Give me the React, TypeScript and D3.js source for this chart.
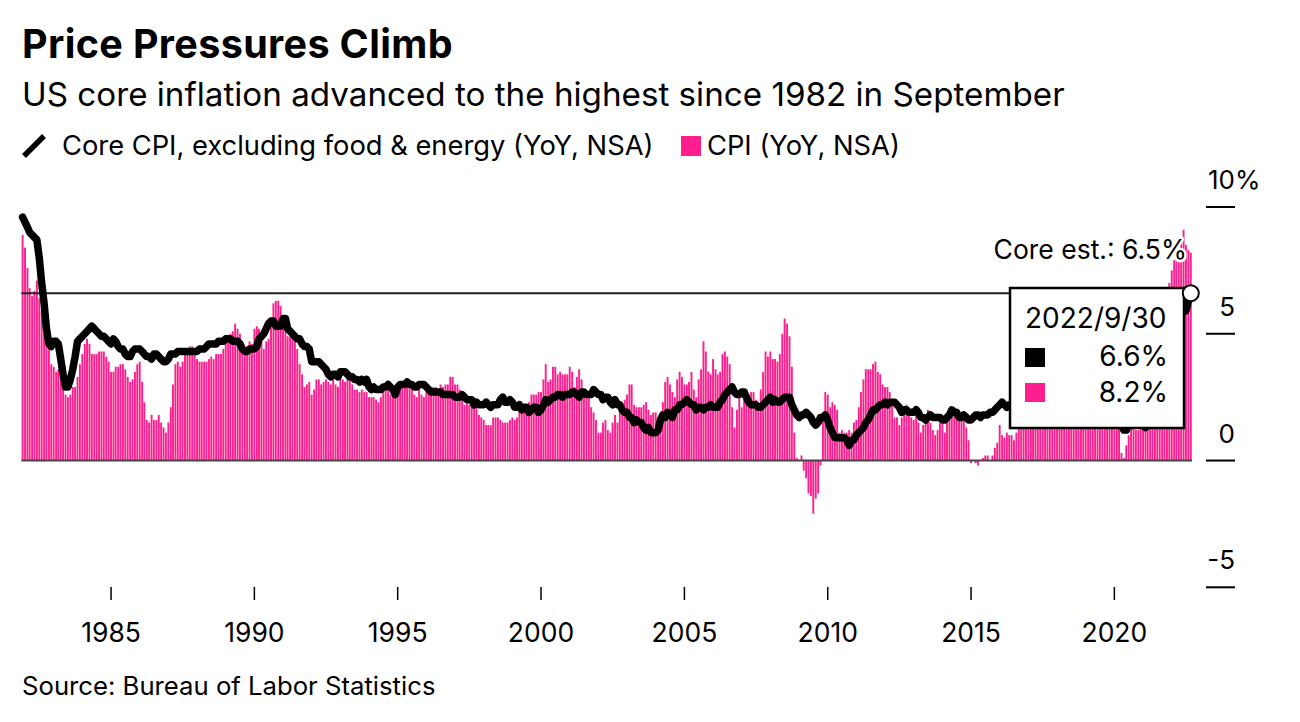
import React from "react";
import * as d3 from "d3";

// Monthly series start: December 1981
const START_YEAR = 1981;
const START_MONTH = 11;

// CPI, YoY % (NSA), Dec 1981 .. Sep 2022
const cpiYoY: number[] = [
  8.9,
  8.4, 7.6, 6.8, 6.5, 6.7, 7.1, 6.4, 5.9, 5.0, 5.1, 4.6, 3.8,
  3.7, 3.5, 3.6, 3.9, 3.5, 2.6, 2.5, 2.6, 2.9, 2.9, 3.3, 3.8,
  4.2, 4.6, 4.8, 4.6, 4.2, 4.2, 4.2, 4.3, 4.3, 4.3, 4.1, 3.9,
  3.5, 3.5, 3.7, 3.7, 3.8, 3.8, 3.6, 3.3, 3.1, 3.2, 3.5, 3.8,
  3.9, 3.1, 2.3, 1.6, 1.5, 1.8, 1.6, 1.6, 1.8, 1.5, 1.3, 1.1,
  1.5, 2.1, 3.0, 3.8, 3.9, 3.7, 3.9, 4.3, 4.4, 4.5, 4.5, 4.4,
  4.0, 3.9, 3.9, 3.9, 3.9, 4.0, 4.1, 4.0, 4.2, 4.2, 4.2, 4.4,
  4.7, 4.8, 5.0, 5.1, 5.4, 5.2, 5.0, 4.7, 4.3, 4.5, 4.7, 4.6,
  5.2, 5.3, 5.2, 4.7, 4.4, 4.7, 4.8, 5.6, 6.2, 6.3, 6.3, 6.1,
  5.7, 5.3, 4.9, 4.9, 5.0, 4.7, 4.4, 3.8, 3.4, 2.9, 3.0, 3.1,
  2.6, 2.8, 3.2, 3.2, 3.0, 3.1, 3.2, 3.1, 3.0, 3.2, 3.0, 2.9,
  3.3, 3.2, 3.1, 3.2, 3.2, 3.0, 2.8, 2.8, 2.7, 2.8, 2.7, 2.7,
  2.5, 2.5, 2.5, 2.4, 2.3, 2.5, 2.8, 2.9, 3.0, 2.6, 2.7, 2.7,
  2.8, 2.9, 2.9, 3.1, 3.2, 3.0, 2.8, 2.6, 2.5, 2.8, 2.6, 2.5,
  2.7, 2.7, 2.8, 2.9, 2.9, 2.8, 3.0, 2.9, 3.0, 3.0, 3.3, 3.3,
  3.0, 3.0, 2.8, 2.5, 2.2, 2.3, 2.2, 2.2, 2.2, 2.1, 1.8, 1.7,
  1.6, 1.4, 1.4, 1.4, 1.7, 1.7, 1.7, 1.6, 1.5, 1.5, 1.5, 1.6,
  1.7, 1.6, 1.7, 2.3, 2.1, 2.0, 2.1, 2.3, 2.6, 2.6, 2.6, 2.7,
  2.7, 3.2, 3.8, 3.1, 3.2, 3.7, 3.7, 3.4, 3.5, 3.4, 3.4, 3.4,
  3.7, 3.5, 2.9, 3.3, 3.6, 3.2, 2.7, 2.7, 2.6, 2.1, 1.9, 1.6,
  1.1, 1.1, 1.5, 1.6, 1.2, 1.1, 1.5, 1.8, 1.5, 2.0, 2.2, 2.4,
  2.6, 3.0, 3.0, 2.2, 2.1, 2.1, 2.1, 2.2, 2.3, 2.0, 1.8, 1.9,
  1.9, 1.7, 1.7, 2.3, 3.1, 3.3, 3.0, 2.7, 2.5, 3.2, 3.5, 3.3,
  3.0, 3.0, 3.1, 3.5, 2.8, 2.5, 3.2, 3.6, 4.7, 4.3, 3.5, 3.4,
  4.0, 3.6, 3.4, 3.5, 4.2, 4.3, 4.1, 3.8, 2.1, 1.3, 2.0, 2.5,
  2.1, 2.4, 2.8, 2.6, 2.7, 2.7, 2.4, 2.0, 2.8, 3.5, 4.3, 4.1,
  4.3, 4.0, 4.0, 3.9, 4.2, 5.0, 5.6, 5.4, 4.9, 3.7, 1.1, 0.1,
  0.0, 0.2, -0.4, -0.7, -1.3, -1.4, -2.1, -1.5, -1.3, -0.2, 1.8, 2.7,
  2.6, 2.1, 2.3, 2.2, 2.0, 1.1, 1.2, 1.1, 1.1, 1.2, 1.1, 1.5,
  1.6, 2.1, 2.7, 3.2, 3.6, 3.6, 3.6, 3.8, 3.9, 3.5, 3.4, 3.0,
  2.9, 2.9, 2.7, 2.3, 1.7, 1.7, 1.4, 1.7, 2.0, 2.2, 1.8, 1.7,
  1.6, 2.0, 1.5, 1.1, 1.4, 1.8, 2.0, 1.5, 1.2, 1.0, 1.2, 1.5,
  1.6, 1.1, 1.5, 2.0, 2.1, 2.1, 2.0, 1.7, 1.7, 1.7, 1.3, 0.8,
  -0.1, 0.0, -0.1, -0.2, 0.0, 0.1, 0.2, 0.2, 0.0, 0.2, 0.5, 0.7,
  1.4, 1.0, 0.9, 1.1, 1.0, 1.0, 0.8, 1.1, 1.5, 1.6, 1.7, 2.1,
  2.5, 2.7, 2.4, 2.2, 1.9, 1.6, 1.7, 1.9, 2.2, 2.0, 2.2, 2.1,
  2.1, 2.2, 2.4, 2.5, 2.8, 2.9, 2.9, 2.7, 2.3, 2.5, 2.2, 1.9,
  1.6, 1.5, 1.9, 2.0, 1.8, 1.6, 1.8, 1.7, 1.7, 1.8, 2.1, 2.3,
  2.5, 2.3, 1.5, 0.3, 0.1, 0.6, 1.0, 1.3, 1.4, 1.2, 1.2, 1.4,
  1.4, 1.7, 2.6, 4.2, 5.0, 5.4, 5.4, 5.3, 5.4, 6.2, 6.8, 7.0,
  7.5, 7.9, 8.5, 8.3, 8.6, 9.1, 8.5, 8.3, 8.2,
];

// Core CPI excluding food & energy, YoY % (NSA), Dec 1981 .. Sep 2022
const coreYoY: number[] = [
  9.6,
  9.4, 9.2, 9.0, 8.9, 8.8, 8.7, 8.0, 7.0, 6.2, 5.2, 4.6, 4.5,
  4.7, 4.7, 4.6, 4.0, 3.4, 2.9, 2.9, 3.2, 3.6, 4.1, 4.7, 4.8,
  4.9, 5.0, 5.1, 5.2, 5.3, 5.2, 5.1, 5.0, 4.9, 4.9, 4.8, 4.7,
  4.6, 4.8, 4.7, 4.5, 4.4, 4.4, 4.2, 4.1, 4.1, 4.3, 4.4, 4.4,
  4.4, 4.3, 4.2, 4.1, 4.1, 4.0, 4.2, 4.2, 4.1, 4.0, 3.9, 3.9,
  4.0, 4.2, 4.2, 4.2, 4.3, 4.3, 4.3, 4.3, 4.3, 4.3, 4.3, 4.3,
  4.3, 4.4, 4.4, 4.4, 4.5, 4.6, 4.6, 4.6, 4.6, 4.7, 4.7, 4.7,
  4.8, 4.8, 4.8, 4.7, 4.7, 4.7, 4.6, 4.4, 4.3, 4.3, 4.4, 4.4,
  4.4, 4.5, 4.8, 4.9, 5.0, 5.2, 5.4, 5.5, 5.5, 5.3, 5.3, 5.3,
  5.6, 5.6, 5.2, 5.1, 5.0, 4.9, 4.8, 4.8, 4.6, 4.5, 4.5, 4.4,
  3.9, 3.9, 3.9, 3.9, 3.8, 3.7, 3.6, 3.4, 3.3, 3.4, 3.4, 3.3,
  3.5, 3.5, 3.5, 3.4, 3.3, 3.3, 3.2, 3.2, 3.1, 3.2, 3.1, 3.2,
  2.9, 2.8, 2.9, 2.8, 2.8, 2.8, 2.9, 2.9, 3.0, 2.9, 2.8, 2.6,
  2.9, 3.0, 3.0, 3.0, 3.1, 3.0, 3.0, 2.9, 2.9, 3.0, 3.0, 3.0,
  2.9, 2.8, 2.7, 2.7, 2.7, 2.7, 2.7, 2.6, 2.6, 2.6, 2.6, 2.6,
  2.5, 2.5, 2.5, 2.6, 2.5, 2.4, 2.4, 2.4, 2.2, 2.3, 2.2, 2.2,
  2.2, 2.3, 2.2, 2.1, 2.2, 2.2, 2.2, 2.4, 2.5, 2.3, 2.3, 2.4,
  2.3, 2.1, 2.1, 2.2, 2.0, 2.1, 2.1, 1.9, 2.0, 2.1, 2.1, 1.9,
  2.0, 2.2, 2.4, 2.3, 2.4, 2.5, 2.5, 2.6, 2.6, 2.5, 2.6, 2.6,
  2.6, 2.7, 2.7, 2.6, 2.5, 2.7, 2.7, 2.6, 2.6, 2.6, 2.8, 2.7,
  2.6, 2.6, 2.4, 2.5, 2.5, 2.3, 2.2, 2.4, 2.2, 2.2, 2.0, 1.9,
  1.9, 1.7, 1.7, 1.5, 1.6, 1.5, 1.5, 1.3, 1.2, 1.3, 1.1, 1.1,
  1.1, 1.2, 1.6, 1.8, 1.7, 1.9, 1.8, 1.7, 2.0, 2.0, 2.2, 2.2,
  2.3, 2.4, 2.3, 2.2, 2.2, 2.0, 2.1, 2.1, 2.0, 2.1, 2.1, 2.2,
  2.1, 2.1, 2.1, 2.3, 2.4, 2.6, 2.7, 2.8, 2.9, 2.7, 2.6, 2.6,
  2.7, 2.7, 2.5, 2.3, 2.2, 2.2, 2.2, 2.1, 2.1, 2.2, 2.3, 2.4,
  2.5, 2.3, 2.4, 2.3, 2.3, 2.4, 2.5, 2.5, 2.5, 2.2, 2.0, 1.8,
  1.7, 1.8, 1.8, 1.9, 1.8, 1.7, 1.5, 1.4, 1.5, 1.7, 1.7, 1.8,
  1.6, 1.3, 1.1, 0.9, 0.9, 0.9, 0.9, 0.9, 0.8, 0.6, 0.8, 0.8,
  1.0, 1.1, 1.2, 1.3, 1.5, 1.6, 1.8, 2.0, 2.0, 2.1, 2.2, 2.2,
  2.3, 2.2, 2.3, 2.3, 2.3, 2.2, 2.1, 1.9, 2.0, 2.0, 1.9, 1.9,
  1.9, 2.0, 1.9, 1.7, 1.7, 1.6, 1.7, 1.8, 1.7, 1.7, 1.7, 1.7,
  1.6, 1.6, 1.7, 1.8, 2.0, 1.9, 1.9, 1.7, 1.7, 1.8, 1.7, 1.6,
  1.6, 1.7, 1.8, 1.8, 1.7, 1.8, 1.8, 1.8, 1.9, 1.9, 2.0, 2.1,
  2.2, 2.3, 2.2, 2.1, 2.2, 2.2, 2.2, 2.3, 2.2, 2.1, 2.1, 2.2,
  2.3, 2.2, 2.0, 1.9, 1.7, 1.7, 1.7, 1.7, 1.7, 1.8, 1.7, 1.8,
  1.8, 1.8, 2.1, 2.1, 2.2, 2.3, 2.4, 2.2, 2.2, 2.1, 2.2, 2.2,
  2.2, 2.1, 2.0, 2.1, 2.0, 2.1, 2.2, 2.4, 2.4, 2.3, 2.3, 2.3,
  2.3, 2.4, 2.1, 1.4, 1.2, 1.2, 1.6, 1.7, 1.7, 1.6, 1.6, 1.6,
  1.4, 1.3, 1.6, 3.0, 3.8, 4.5, 4.3, 4.0, 4.0, 4.6, 4.9, 5.5,
  6.0, 6.4, 6.5, 6.2, 6.0, 5.9, 5.9, 6.3, 6.6,
];

const yTicks: number[] = [10, 5, 0, -5];
const xTickYears: number[] = [1985, 1990, 1995, 2000, 2005, 2010, 2015, 2020];
const refLineValue = 6.6;
const estLabel = "Core est.: 6.5%";
const tooltipDate = "2022/9/30";
const tooltipCore = "6.6%";
const tooltipCpi = "8.2%";

const PINK = "#ff1e8e";
const FONT = "Inter, 'Liberation Sans', Arial, sans-serif";

export default function App() {
  const W = 1300;
  const H = 722;
  const dates = cpiYoY.map((_, i) => new Date(START_YEAR, START_MONTH + i, 1));
  const n = dates.length;
  const x = d3.scaleTime().domain([dates[0], dates[n - 1]]).range([22.6, 1190.8]);
  const y = d3.scaleLinear().domain([-5, 10]).range([587.3, 207]);
  const step = (x.range()[1] - x.range()[0]) / (n - 1);
  const bw = step * 0.8;
  const plotLeft = x.range()[0] - step / 2;
  const plotRight = x.range()[1] + step / 2;

  const linePath = d3
    .line<number>()
    .x((_, i) => x(dates[i]))
    .y((d) => y(d))(coreYoY) as string;

  const lastX = x(dates[n - 1]);
  const lastCore = coreYoY[n - 1];

  const axisX0 = 1206;
  const axisX1 = 1235;

  // tooltip box
  const tipL = 1010, tipT = 288, tipR = 1184, tipB = 428;

  return (
    <svg
      width={W}
      height={H}
      style={{ position: "absolute", left: 0, top: 0, background: "#fff" }}
      fontFamily={FONT}
    >
      <rect x={0} y={0} width={W} height={H} fill="#fff" />
      {/* Title block */}
      <text x={22} y={58} fontSize={39.5} fontWeight={700} fill="#000" letterSpacing={0.35}>
        Price Pressures Climb
      </text>
      <text x={22} y={106} fontSize={33.2} fill="#000">
        US core inflation advanced to the highest since 1982 in September
      </text>
      {/* Legend */}
      <line x1={24} y1={156} x2={44} y2={136} stroke="#000" strokeWidth={5.5} />
      <text x={62} y={155} fontSize={27.3} fill="#000">
        Core CPI, excluding food &amp; energy (YoY, NSA)
      </text>
      <rect x={681} y={136} width={20} height={20} fill={PINK} />
      <text x={707} y={155} fontSize={27.3} fill="#000">
        CPI (YoY, NSA)
      </text>

      {/* Bars */}
      <g>
        {cpiYoY.map((v, i) => {
          const cx = x(dates[i]);
          const y0 = y(0);
          const y1 = y(v);
          return (
            <rect
              key={i}
              x={cx - bw / 2}
              y={Math.min(y0, y1)}
              width={bw}
              height={Math.abs(y1 - y0)}
              fill={PINK}
            />
          );
        })}
      </g>

      {/* Zero baseline */}
      <line x1={plotLeft} x2={plotRight} y1={y(0)} y2={y(0)} stroke="#444" strokeWidth={2} />

      {/* Reference line */}
      <line
        x1={plotLeft}
        x2={plotRight}
        y1={y(refLineValue)}
        y2={y(refLineValue)}
        stroke="#222"
        strokeWidth={2}
      />

      {/* Core line */}
      <path d={linePath} fill="none" stroke="#000" strokeWidth={7.5} strokeLinejoin="round" strokeLinecap="round" />

      {/* Core estimate label */}
      <text
        x={1187}
        y={259}
        fontSize={26.5}
        textAnchor="end"
        fill="#000"
        stroke="#fff"
        strokeWidth={5}
        strokeLinejoin="round"
        style={{ paintOrder: "stroke" }}
      >
        {estLabel}
      </text>

      {/* Tooltip */}
      <rect x={tipL} y={tipT} width={tipR - tipL} height={tipB - tipT} fill="#fff" stroke="#000" strokeWidth={2.5} />
      <text x={1025} y={328} fontSize={28} fill="#000">
        {tooltipDate}
      </text>
      <rect x={1025} y={348} width={20} height={19} fill="#000" />
      <text x={1168} y={366} fontSize={28} textAnchor="end" fill="#000">
        {tooltipCore}
      </text>
      <rect x={1025} y={383} width={20} height={19} fill={PINK} />
      <text x={1168} y={402} fontSize={28} textAnchor="end" fill="#000">
        {tooltipCpi}
      </text>

      {/* Hover circle */}
      <circle cx={lastX} cy={y(lastCore)} r={8} fill="#fff" stroke="#000" strokeWidth={2} />

      {/* Y axis */}
      {yTicks.map((t) => (
        <g key={t}>
          <line x1={axisX0} x2={axisX1} y1={y(t)} y2={y(t)} stroke="#000" strokeWidth={2} />
          <text x={axisX1} y={y(t) - 18} fontSize={26} textAnchor="end" fill="#000">
            {t}
          </text>
          {t === 10 && (
            <text x={axisX1} y={y(t) - 18} fontSize={26} fill="#000">
              %
            </text>
          )}
        </g>
      ))}

      {/* X axis */}
      {xTickYears.map((yr) => {
        const tx = x(new Date(yr, 0, 1));
        return (
          <g key={yr}>
            <line x1={tx} x2={tx} y1={587} y2={600} stroke="#000" strokeWidth={1.5} />
            <text x={tx} y={642} fontSize={26.5} textAnchor="middle" fill="#000">
              {yr}
            </text>
          </g>
        );
      })}

      {/* Source */}
      <text x={22} y={695} fontSize={25.7} fill="#000">
        Source: Bureau of Labor Statistics
      </text>
    </svg>
  );
}
